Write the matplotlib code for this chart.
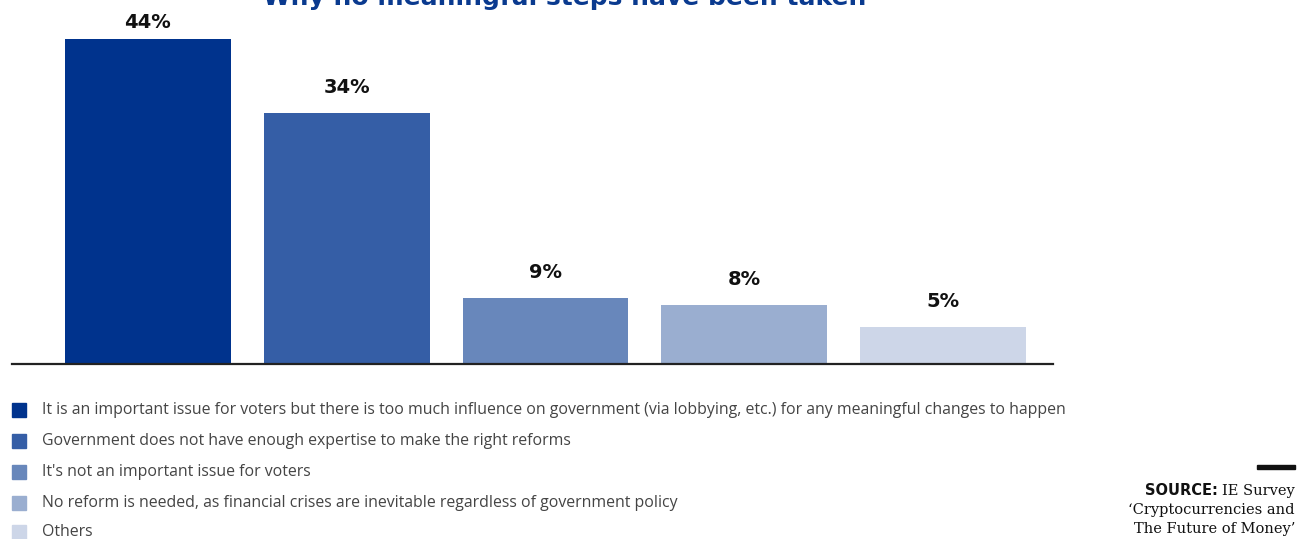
import matplotlib
matplotlib.use("Agg")
import matplotlib.pyplot as plt
from matplotlib.patches import Rectangle

# Survey results
categories = [
    "It is an important issue for voters but there is too much influence on government (via lobbying, etc.) for any meaningful changes to happen",
    "Government does not have enough expertise to make the right reforms",
    "It's not an important issue for voters",
    "No reform is needed, as financial crises are inevitable regardless of government policy",
    "Others",
]
values = [44, 34, 9, 8, 5]
labels = ["44%", "34%", "9%", "8%", "5%"]
colors = ["#00338D", "#355EA6", "#6887BB", "#9AAED0", "#CDD6E8"]
title = "Why no meaningful steps have been taken"

W, H = 1298, 539
DPI = 100
fig = plt.figure(figsize=(W / DPI, H / DPI), dpi=DPI)


def fx(px):
    return px / W


def fy(py):
    return 1 - py / H


# Bar area
base_px = 364
ax = fig.add_axes([fx(12), fy(base_px), fx(1053) - fx(12), fy(0) - fy(base_px)])
x = list(range(len(values)))
ax.bar(x, values, width=0.834, color=colors, zorder=2)
ax.set_xlim(-0.683, 4.553)
ax.set_ylim(0, 49.3)
for s in ["top", "right", "left"]:
    ax.spines[s].set_visible(False)
ax.spines["bottom"].set_color("#222222")
ax.spines["bottom"].set_linewidth(1.6)
ax.spines["bottom"].set_zorder(3)
ax.set_xticks([])
ax.set_yticks([])

# Value labels sit above each bar, kept below the title
label_ceiling = 46.3
for xi, v, lab in zip(x, values, labels):
    ax.text(xi, min(v + 3.4, label_ceiling), lab, ha="center", va="center",
            fontsize=14, fontweight="bold", color="#111111",
            family="DejaVu Sans")

# Title (partly above the canvas edge)
fig.text(fx(565), fy(5), title, ha="center", va="baseline", fontsize=18,
         fontweight="bold", color="#0A3A8F", family="DejaVu Sans")

# Legend
row_y = [410, 441, 472, 503, 532]
for cy, c, cat in zip(row_y, colors, categories):
    fig.patches.append(Rectangle((fx(12), fy(cy + 7)), fx(14), 14 / H,
                                 transform=fig.transFigure, color=c,
                                 figure=fig))
    fig.text(fx(42), fy(cy), cat, ha="left", va="center", fontsize=11.4,
             color="#444444", family="Open Sans")

# Source note
fig.patches.append(Rectangle((fx(1257), fy(469)), fx(38), 4 / H,
                             transform=fig.transFigure, color="#111111",
                             figure=fig))
t1 = fig.text(fx(1295), fy(495), "IE Survey", ha="right", va="baseline",
              fontsize=10.5, color="#111111", family="DejaVu Serif")
fig.text(fx(1295), fy(514), "\u2018Cryptocurrencies and", ha="right",
         va="baseline", fontsize=10.5, color="#111111", family="DejaVu Serif")
fig.text(fx(1295), fy(533), "The Future of Money\u2019", ha="right",
         va="baseline", fontsize=10.5, color="#111111", family="DejaVu Serif")
fig.canvas.draw()
bb = t1.get_window_extent()
fig.text(bb.x0 / W - fx(4), fy(495), "SOURCE:", ha="right", va="baseline",
         fontsize=10.5, fontweight="bold", color="#111111",
         family="DejaVu Sans")

fig.savefig("out.png", dpi=DPI)
